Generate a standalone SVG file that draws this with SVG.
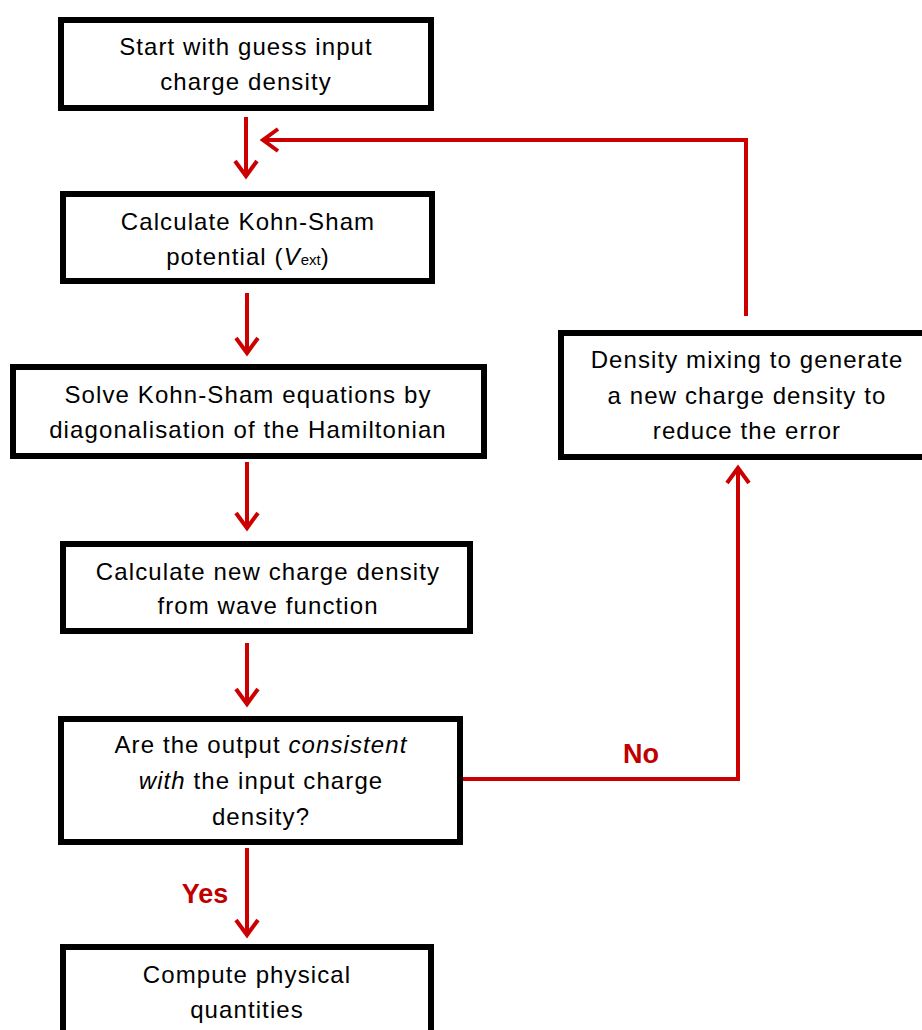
<svg xmlns="http://www.w3.org/2000/svg" width="922" height="1030" viewBox="0 0 922 1030">
<style>
.box{fill:#fff;stroke:#000;stroke-width:6}
.t{font-family:"Liberation Sans",Arial,sans-serif;font-size:24px;letter-spacing:1.1px;fill:#000;text-anchor:middle}
.c{fill:none;stroke:#CC0000;stroke-width:4;marker-end:url(#ah)}
.lbl{font-family:"Liberation Sans",Arial,sans-serif;font-size:27px;font-weight:bold;fill:#C00000;text-anchor:middle}
</style>
<defs>
<marker id="ah" markerUnits="userSpaceOnUse" markerWidth="30" markerHeight="30" viewBox="-20 -15 25 30" refX="0" refY="0" orient="auto" overflow="visible">
<path d="M-16,-11 L-1,0 L-16,11" fill="none" stroke="#CC0000" stroke-width="4"/>
</marker>
</defs>
<rect width="922" height="1030" fill="#fff"/>
<g id="connectors">
<line class="c" x1="246" y1="117" x2="246" y2="177"/>
<polyline class="c" points="746,316 746,140 262,140"/>
<line class="c" x1="247" y1="293" x2="247" y2="354"/>
<line class="c" x1="247" y1="462" x2="247" y2="529"/>
<line class="c" x1="247" y1="643" x2="247" y2="705"/>
<polyline class="c" points="460,779 738,779 738,467"/>
<line class="c" x1="247" y1="848" x2="247" y2="936"/>
<text class="lbl" x="641" y="763">No</text>
<text class="lbl" x="205" y="903">Yes</text>
</g>
<g id="n1">
<rect class="box" x="61" y="20" width="370" height="88"/>
<text class="t" x="246" y="55">Start with guess input</text>
<text class="t" x="246" y="90">charge density</text>
</g>
<g id="n2">
<rect class="box" x="63" y="194" width="369" height="87"/>
<text class="t" x="248" y="230">Calculate Kohn-Sham</text>
<text class="t" x="248" y="265">potential (<tspan font-style="italic">V</tspan><tspan font-size="15" letter-spacing="0">ext</tspan>)</text>
</g>
<g id="n3">
<rect class="box" x="13" y="367" width="471" height="89"/>
<text class="t" x="248" y="403">Solve Kohn-Sham equations by</text>
<text class="t" x="248" y="438">diagonalisation of the Hamiltonian</text>
</g>
<g id="n4">
<rect class="box" x="63" y="544" width="407" height="87"/>
<text class="t" x="268" y="580">Calculate new charge density</text>
<text class="t" x="268" y="614">from wave function</text>
</g>
<g id="n5">
<rect class="box" x="61" y="719" width="399" height="123"/>
<text class="t" x="261" y="753">Are the output <tspan font-style="italic">consistent</tspan></text>
<text class="t" x="261" y="789"><tspan font-style="italic">with</tspan> the input charge</text>
<text class="t" x="261" y="825">density?</text>
</g>
<g id="n6">
<rect class="box" x="561" y="333" width="370" height="124"/>
<text class="t" x="747" y="368">Density mixing to generate</text>
<text class="t" x="747" y="404">a new charge density to</text>
<text class="t" x="747" y="439">reduce the error</text>
</g>
<g id="n7">
<rect class="box" x="63" y="947" width="368" height="95"/>
<text class="t" x="247" y="983">Compute physical</text>
<text class="t" x="247" y="1018">quantities</text>
</g>
</svg>
